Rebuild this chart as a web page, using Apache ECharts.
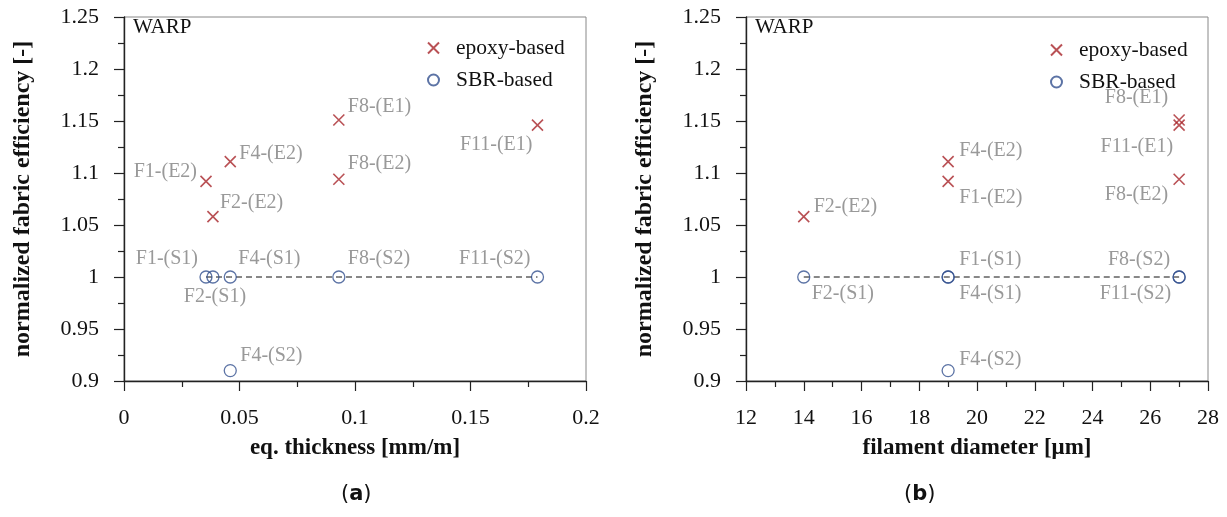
<!DOCTYPE html>
<html>
<head>
<meta charset="utf-8">
<script src="https://cdn.jsdelivr.net/npm/echarts@6/dist/echarts.min.js"></script>
<style>
html,body{margin:0;padding:0;background:#fff;}
#chart{width:1227px;height:517px;}
</style>
</head>
<body>
<div id="chart"></div>
<script>
// ---- data ----
const fabrics = ['F1', 'F2', 'F4', 'F8', 'F11'];
const eqThickness = [0.0355, 0.0385, 0.046, 0.093, 0.179];   // mm/m
const filamentDiameter = [19, 14, 19, 27, 27];               // µm

const epoxyLabels = ['F1-(E2)', 'F2-(E2)', 'F4-(E2)', 'F8-(E1)', 'F8-(E2)', 'F11-(E1)'];
const epoxyFabric = ['F1', 'F2', 'F4', 'F8', 'F8', 'F11'];
const epoxyEff = [1.092, 1.058, 1.111, 1.151, 1.094, 1.146];

const sbrLabels = ['F1-(S1)', 'F2-(S1)', 'F4-(S1)', 'F4-(S2)', 'F8-(S2)', 'F11-(S2)'];
const sbrFabric = ['F1', 'F2', 'F4', 'F4', 'F8', 'F11'];
const sbrEff = [1, 1, 1, 0.91, 1, 1];

const yTicks = [0.9, 1.25, 0.05];
const xTicksA = [0, 0.2, 0.05];
const xTicksB = [12, 28, 2];

// ---- label placement (style only): [align, dx, dy] ----
const placeA = {
  'F1-(E2)': ['right', -9, -10], 'F2-(E2)': ['left', 7, -14], 'F4-(E2)': ['left', 9, -8],
  'F8-(E1)': ['left', 9, -13], 'F8-(E2)': ['left', 9, -15], 'F11-(E1)': ['right', -5, 20],
  'F1-(S1)': ['right', -8, -18], 'F2-(S1)': ['center', 2, 20], 'F4-(S1)': ['left', 8, -18],
  'F4-(S2)': ['left', 10, -15], 'F8-(S2)': ['left', 9, -18], 'F11-(S2)': ['right', -7, -18]
};
const placeB = {
  'F2-(E2)': ['left', 10, -10], 'F4-(E2)': ['left', 11, -11], 'F1-(E2)': ['left', 11, 16],
  'F8-(E1)': ['right', -11, -22], 'F11-(E1)': ['right', -6, 22], 'F8-(E2)': ['right', -11, 16],
  'F2-(S1)': ['left', 8, 17], 'F1-(S1)': ['left', 11, -17], 'F4-(S1)': ['left', 11, 17],
  'F4-(S2)': ['left', 11, -11], 'F8-(S2)': ['right', -9, -17], 'F11-(S2)': ['right', -8, 17]
};

const SERIF = "'Liberation Serif','Times New Roman',serif";
const RED = '#a8262a';
const BLUE = '#33508f';
const XPATH = 'path://M0,0L10,10M10,0L0,10';

function pts(labels, fab, eff, xs, place) {
  return labels.map((n, i) => {
    const p = place[n];
    return {
      name: n,
      value: [xs[fabrics.indexOf(fab[i])], eff[i]],
      label: { show: true, position: 'inside', align: p[0], verticalAlign: 'middle', offset: [p[1], p[2]] }
    };
  });
}
function refLine(fab, eff, xs) {
  const arr = [];
  fab.forEach((f, i) => { if (eff[i] === 1) arr.push([xs[fabrics.indexOf(f)], eff[i]]); });
  arr.sort((a, b) => a[0] - b[0]);
  return arr;
}

const labelStyle = { color: '#808080', fontSize: 20, fontFamily: SERIF, formatter: '{b}' };

function xAxisCfg(idx, t, name) {
  return {
    gridIndex: idx, type: 'value', min: t[0], max: t[1], interval: t[2],
    name: name, nameLocation: 'middle', nameGap: 56,
    nameTextStyle: { fontFamily: SERIF, fontWeight: 'bold', fontSize: 23, color: '#111' },
    axisLine: { show: true, onZero: false, lineStyle: { color: '#222', width: 1.4 } },
    axisTick: { show: true, inside: false, length: 10, lineStyle: { color: '#222', width: 1.2 } },
    minorTick: { show: true, splitNumber: 2, length: 6, lineStyle: { color: '#222', width: 1.2 } },
    axisLabel: { margin: 26, fontFamily: SERIF, fontSize: 22, color: '#111', showMinLabel: true, showMaxLabel: true },
    splitLine: { show: false }
  };
}
function yAxisCfg(idx) {
  return {
    gridIndex: idx, type: 'value', min: yTicks[0], max: yTicks[1], interval: yTicks[2],
    name: 'normalized fabric efficiency [-]', nameLocation: 'middle', nameGap: 89,
    nameTextStyle: { fontFamily: SERIF, fontWeight: 'bold', fontSize: 24, color: '#111' },
    axisLine: { show: true, onZero: false, lineStyle: { color: '#222', width: 1.4 } },
    axisTick: { show: true, inside: false, length: 10, lineStyle: { color: '#222', width: 1.2 } },
    minorTick: { show: true, splitNumber: 2, length: 6, lineStyle: { color: '#222', width: 1.2 } },
    axisLabel: { margin: 25, fontFamily: SERIF, fontSize: 22, color: '#111', showMinLabel: true, showMaxLabel: true },
    splitLine: { show: false }
  };
}
function epoxySeries(idx, xs, place) {
  return {
    name: 'epoxy-based', type: 'scatter', xAxisIndex: idx, yAxisIndex: idx,
    symbol: XPATH, symbolSize: 11, z: 5,
    itemStyle: { color: RED, borderColor: RED, borderWidth: 1.6 },
    label: labelStyle,
    emphasis: { disabled: true },
    data: pts(epoxyLabels, epoxyFabric, epoxyEff, xs, place)
  };
}
function sbrSeries(idx, xs, place) {
  return {
    name: 'SBR-based', type: 'scatter', xAxisIndex: idx, yAxisIndex: idx,
    symbol: 'circle', symbolSize: 12, z: 5,
    itemStyle: { color: 'rgba(255,255,255,0)', borderColor: BLUE, borderWidth: 1.3 },
    label: labelStyle,
    emphasis: { disabled: true },
    data: pts(sbrLabels, sbrFabric, sbrEff, xs, place)
  };
}
function lineSeries(idx, xs) {
  return {
    name: 'ref', type: 'line', xAxisIndex: idx, yAxisIndex: idx, symbol: 'none', z: 3,
    lineStyle: { color: '#111', width: 1, type: [6, 4] },
    silent: true,
    data: refLine(sbrFabric, sbrEff, xs)
  };
}
function legendCfg(left, top) {
  return {
    data: ['epoxy-based', 'SBR-based'], orient: 'vertical', left: left, top: top,
    itemWidth: 11, itemHeight: 11, itemGap: 10, selectedMode: false,
    textStyle: { fontFamily: SERIF, fontSize: 21.5, color: '#111', lineHeight: 21, padding: [0, 0, 0, 12] }
  };
}

const chart = echarts.init(document.getElementById('chart'), null, { renderer: 'canvas' });
chart.setOption({
  animation: false,
  backgroundColor: '#fff',
  grid: [
    { left: 124, top: 17, width: 462, height: 364, show: true, borderColor: '#888', borderWidth: 1, backgroundColor: 'transparent' },
    { left: 746, top: 17, width: 462, height: 364, show: true, borderColor: '#888', borderWidth: 1, backgroundColor: 'transparent' }
  ],
  xAxis: [xAxisCfg(0, xTicksA, 'eq. thickness [mm/m]'), xAxisCfg(1, xTicksB, 'filament diameter [\u03bcm]')],
  yAxis: [yAxisCfg(0), yAxisCfg(1)],
  legend: [legendCfg(422, 32), legendCfg(1045, 34)],
  graphic: [
    { type: 'text', left: 133, top: 17, style: { text: 'WARP', font: '21px ' + SERIF, fill: '#111' } },
    { type: 'text', left: 755, top: 17, style: { text: 'WARP', font: '21px ' + SERIF, fill: '#111' } },
    { type: 'text', left: 341, top: 484, style: { text: '({b|a})', font: '21px "DejaVu Sans",sans-serif', fill: '#111',
        rich: { b: { fontWeight: 'bold', fontSize: 21, fontFamily: '"DejaVu Sans",sans-serif' } } } },
    { type: 'text', left: 904, top: 484, style: { text: '({b|b})', font: '21px "DejaVu Sans",sans-serif', fill: '#111',
        rich: { b: { fontWeight: 'bold', fontSize: 21, fontFamily: '"DejaVu Sans",sans-serif' } } } }
  ],
  series: [
    lineSeries(0, eqThickness), epoxySeries(0, eqThickness, placeA), sbrSeries(0, eqThickness, placeA),
    lineSeries(1, filamentDiameter), epoxySeries(1, filamentDiameter, placeB), sbrSeries(1, filamentDiameter, placeB)
  ]
});
</script>
</body>
</html>
